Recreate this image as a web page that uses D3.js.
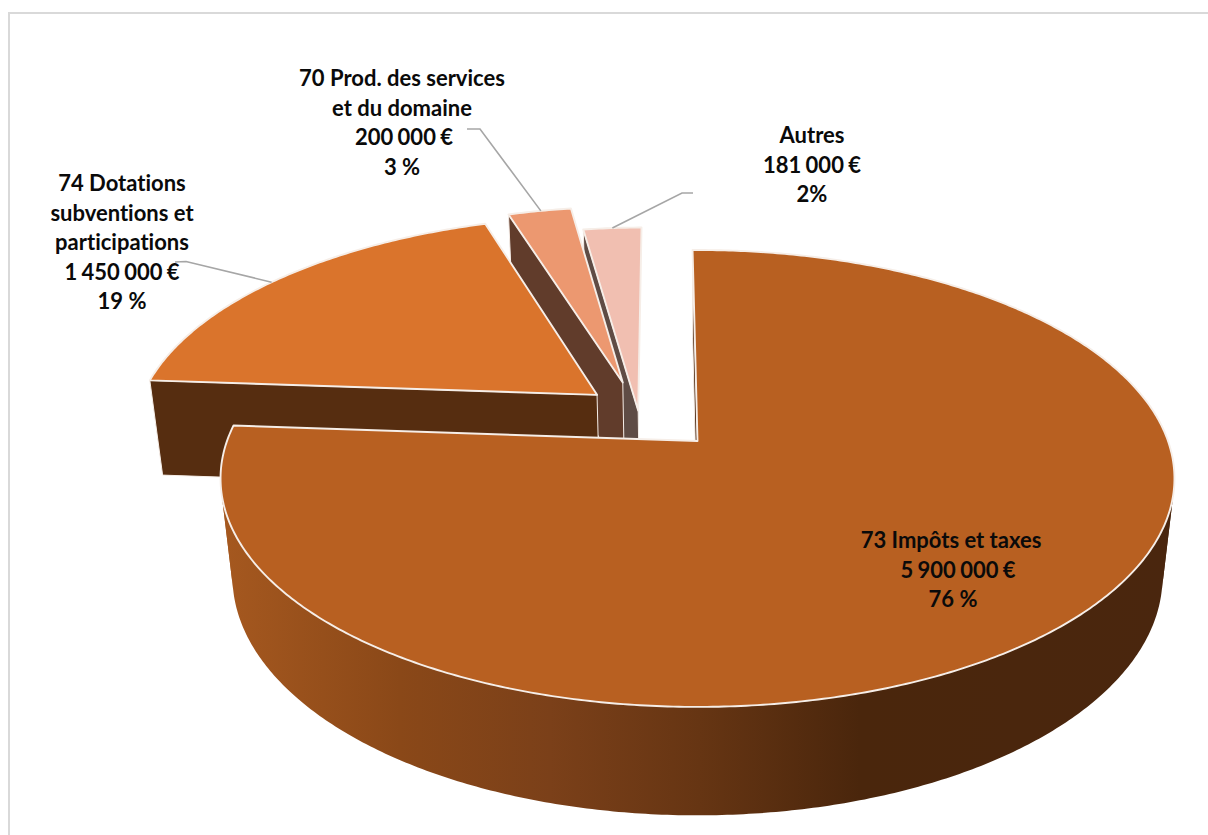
<!DOCTYPE html>
<html lang="fr">
<head>
<meta charset="utf-8">
<title>Recettes de fonctionnement</title>
<script src="https://cdn.jsdelivr.net/npm/d3@7/dist/d3.min.js"></script>
<style>
  html, body { margin: 0; padding: 0; background: #fff; }
  svg { display: block; }
  text { font-family: Lato, "Open Sans", sans-serif; font-weight: 700; fill: #0a0a0a; font-variant-ligatures: none; }
</style>
</head>
<body>
<svg id="chart" width="1208" height="835"></svg>
<script>
// Budget categories, in drawing order clockwise from the top of the pie
const categories = ["73 Impôts et taxes", "74 Dotations subventions et participations", "70 Prod. des services et du domaine", "Autres"];
const amounts = [5900000, 1450000, 200000, 181000];

// Label lines per category
const labelLines = [
  ["73 Impôts et taxes", "5 900 000 €", "76 %"],
  ["74 Dotations", "subventions et", "participations", "1 450 000 €", "19 %"],
  ["70 Prod. des services", "et du domaine", "200 000 €", "3 %"],
  ["Autres", "181 000 €", "2%"]
];
const labelAnchors = [[951, 548], [122, 191], [402, 86], [812, 143]];
const labelLineShift = [[0, 7, 2], [0, 0, 0, 0, 0], [0, 0, 2, 0], [0, 0, 0]];
const lineHeight = 29.5;

// Slice styling
const topColors = ["#b86021", "#da742c", "#ec9870", "#f1bfb1"];
const cutColors = ["#4a260e", "#562d10", "#613c2b", "#5f4c45"];

// How far each slice is pulled out of the pie, in disc radii
const explodeU = [0, -0.221, -0.166, -0.129];
const explodeV = [0, -0.215, -0.275, -0.14];

// Leader lines: label-side elbow points and the angular position along the slice arc
const leaders = [
  null,
  { elbow: [[175, 262], [186, 261.5]], at: 0.48 },
  { elbow: [[467, 129], [480, 129]], at: 0.52 },
  { elbow: [[693, 193], [682, 193]], at: 0.50 }
];

// Perspective view of a flat disc extruded downwards
const view = { cx: 697.5, cy: 441, rx: 470.5, ry: 222.3, tilt: 0.164, depth: 100, shrink: 0.025 };
const xScale = d3.scaleLinear().domain([-1, 1]).range([view.cx - view.rx, view.cx + view.rx]);
const yScale = d3.scaleLinear().domain([-1, 1]).range([view.cy - view.ry, view.cy + view.ry]);
const project = (u, v, z) => {
  const w = 1 - view.tilt * v + view.shrink * z;
  return [xScale(u / w), yScale((v + z * view.depth / view.ry) / w)];
};

const startDeg = -0.7;
const pieLayout = d3.pie().sort(null).value(d => d)
  .startAngle(startDeg * Math.PI / 180)
  .endAngle((startDeg + 360) * Math.PI / 180);
const arcs = pieLayout(amounts);

const pointAt = (i, angle, r, z) =>
  project(explodeU[i] + r * Math.sin(angle), explodeV[i] - r * Math.cos(angle), z);
const arcAngles = (a0, a1, step) => {
  const n = Math.max(2, Math.ceil(Math.abs(a1 - a0) / step));
  return d3.range(n + 1).map(k => a0 + (a1 - a0) * k / n);
};

const svg = d3.select("#chart");
const pathOf = d3.line();

// Rim shading runs from the lit left side to the dark right side
const rimStops = [[225, "#a5581f"], [400, "#8a4818"], [550, "#7b4019"], [700, "#663513"], [860, "#4a260c"], [1175, "#4a260e"]];
const grad = svg.append("defs").append("linearGradient")
  .attr("id", "rim").attr("gradientUnits", "userSpaceOnUse")
  .attr("x1", 225).attr("x2", 1175).attr("y1", 0).attr("y2", 0);
grad.selectAll("stop").data(rimStops).join("stop")
  .attr("offset", d => (d[0] - 225) / 950)
  .attr("stop-color", d => d[1]);

// Chart frame, open at the right and bottom
svg.append("path")
  .attr("d", pathOf([[9, 835], [9, 13], [1208, 13]]))
  .attr("fill", "none").attr("stroke", "#d9d9d9").attr("stroke-width", 2);

const faceStroke = "#f6eee8";
const drawCut = (i, angle) => {
  svg.append("path")
    .attr("d", pathOf([pointAt(i, angle, 1, 0), pointAt(i, angle, 0, 0), pointAt(i, angle, 0, 1), pointAt(i, angle, 1, 1)]) + "Z")
    .attr("fill", cutColors[i]).attr("stroke", faceStroke).attr("stroke-width", 1).attr("stroke-linejoin", "round");
};
const drawTop = i => {
  const d = arcs[i];
  const outline = [pointAt(i, d.startAngle, 0, 0)].concat(arcAngles(d.startAngle, d.endAngle, 0.01).map(a => pointAt(i, a, 1, 0)));
  svg.append("path")
    .attr("d", pathOf(outline) + "Z")
    .attr("fill", topColors[i]).attr("stroke", faceStroke).attr("stroke-width", 1.9).attr("stroke-linejoin", "round");
};

// Back to front: small exploded slices first, the large slice last
[3, 2, 1].forEach(i => {
  drawCut(i, arcs[i].startAngle);
  drawTop(i);
});

// Curved outer wall of the large slice. The wall folds over at the silhouette,
// so it is split into runs of the same winding and each run is filled on its own.
const rimAngles = arcAngles(70 * Math.PI / 180, arcs[0].endAngle, 0.01);
const stripSign = ([a, b]) => Math.sign(d3.polygonArea([pointAt(0, a, 1, 0), pointAt(0, b, 1, 0), pointAt(0, b, 1, 1), pointAt(0, a, 1, 1)]));
const rimRuns = [];
d3.pairs(rimAngles).forEach(pair => {
  const sign = stripSign(pair);
  const run = rimRuns[rimRuns.length - 1];
  if (run && run.sign === sign) run.angles.push(pair[1]);
  else rimRuns.push({ sign, angles: [pair[0], pair[1]] });
});
svg.append("g").selectAll("path").data(rimRuns).join("path")
  .attr("d", r => pathOf(r.angles.map(a => pointAt(0, a, 1, 0)).concat(r.angles.slice().reverse().map(a => pointAt(0, a, 1, 1)))) + "Z")
  .attr("fill", "url(#rim)");

drawCut(0, arcs[0].startAngle);
drawTop(0);

// Leader lines from the labels to the slice edges
leaders.forEach((l, i) => {
  if (!l) return;
  const d = arcs[i];
  const end = pointAt(i, d.startAngle + (d.endAngle - d.startAngle) * l.at, 1, 0);
  svg.append("path")
    .attr("d", pathOf(l.elbow.concat([end])))
    .attr("fill", "none").attr("stroke", "#a6a6a6").attr("stroke-width", 1.6);
});

// Data labels; amounts use slightly tighter thousands gaps
labelLines.forEach((lines, i) => {
  const t = svg.append("text")
    .attr("text-anchor", "middle")
    .attr("font-size", 22);
  lines.forEach((line, j) => {
    t.append("tspan")
      .attr("x", labelAnchors[i][0] + labelLineShift[i][j])
      .attr("y", labelAnchors[i][1] + j * lineHeight)
      .attr("word-spacing", line.endsWith("€") ? -1 : 0)
      .text(line);
  });
});
</script>
</body>
</html>
